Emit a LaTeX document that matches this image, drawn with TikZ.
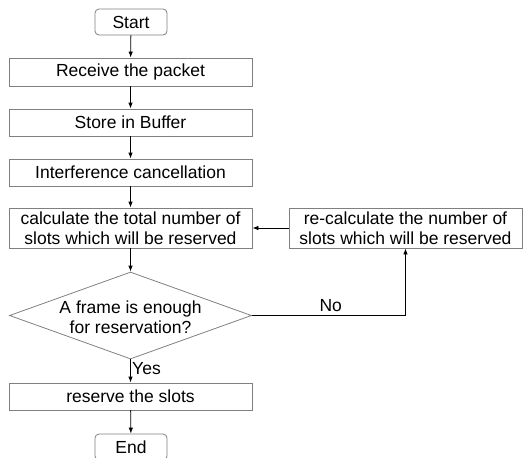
\documentclass[tikz,border=0pt]{standalone}
\usepackage{fontspec}
\setmainfont{Liberation Sans}
\usetikzlibrary{arrows.meta,shapes.geometric}
\begin{document}
\begin{tikzpicture}[x=1pt,y=-1pt,font=\fontsize{17.5}{20}\selectfont,
	box/.style={draw=black!50,line width=0.8pt,minimum width=243pt,inner sep=0pt,align=center},
	term/.style={draw=black!50,line width=0.8pt,rounded corners=4pt,minimum width=72pt,minimum height=26pt,inner sep=0pt},
	dia/.style={draw=black!50,line width=0.8pt,diamond,minimum width=242pt,minimum height=87pt,inner sep=0pt},
	arr/.style={-{Latex[length=6pt,width=4.5pt]},line width=0.8pt,black}]
			\useasboundingbox (0,0) rectangle (528,458);
			\node[term] (start) at (131,22) {Start};
			\node[box,minimum height=28pt] (recv) at (130.5,72) {Receive the packet};
			\node[box,minimum height=27pt] (store) at (130.5,122.5) {Store in Buffer};
			\node[box,minimum height=27pt] (intf) at (130.5,172.5) {Interference cancellation};
			\node[box,minimum height=40pt] (calc) at (130.5,228) {calculate the total number of\\slots which will be reserved};
			\node[box,minimum width=233pt,minimum height=40pt] (recalc) at (405.5,228) {re-calculate the number of\\slots which will be reserved};
			\node[dia] (dec) at (130.5,315.5) {};
			\node[align=center,inner sep=0pt] (dectxt) at (130.5,317) {A frame is enough\\for reservation?};
			\node[box,minimum height=27pt] (rsv) at (130.5,396.5) {reserve the slots};
			\node[term] (end) at (131,447) {End};
			\draw[arr] (start) -- (recv);
			\draw[arr] (recv) -- (store);
			\draw[arr] (store) -- (intf);
			\draw[arr] (intf) -- (calc);
			\draw[arr] (calc) -- (dec);
			\draw[arr] (dec) -- node[right,xshift=-2pt,yshift=2pt] {Yes} (rsv);
			\draw[arr] (rsv) -- (end);
			\draw[arr] (recalc) -- (calc);
			\draw[arr] (dec.east) -- node[above,pos=0.5,xshift=2pt] {No} (dec.east -| recalc) -- (recalc);
		\end{tikzpicture}
\end{document}
